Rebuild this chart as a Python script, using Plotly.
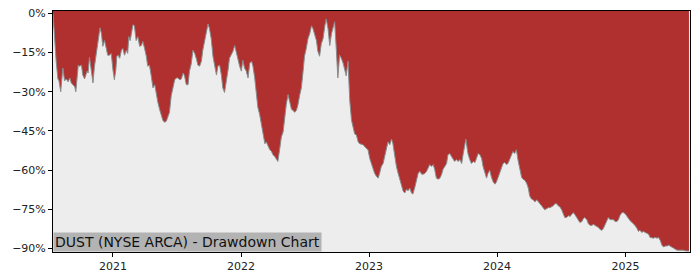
import plotly.graph_objects as go

dates = [
"2020-07-14","2020-07-17","2020-07-19","2020-07-23","2020-07-28","2020-07-31","2020-08-05","2020-08-07","2020-08-11","2020-08-16",
"2020-08-21","2020-08-26","2020-08-31","2020-09-04","2020-09-09","2020-09-14","2020-09-17","2020-09-20","2020-09-24","2020-09-28",
"2020-10-03","2020-10-07","2020-10-12","2020-10-15","2020-10-19","2020-10-22","2020-10-26","2020-10-31","2020-11-05","2020-11-09",
"2020-11-14","2020-11-18","2020-11-21","2020-11-25","2020-11-29","2020-12-03","2020-12-08","2020-12-13","2020-12-17","2020-12-22",
"2020-12-27","2021-01-01","2021-01-05","2021-01-09","2021-01-12","2021-01-16","2021-01-20","2021-01-25","2021-01-29","2021-02-03",
"2021-02-08","2021-02-12","2021-02-15","2021-02-19","2021-02-23","2021-02-27","2021-03-03","2021-03-08","2021-03-13","2021-03-18",
"2021-03-23","2021-03-27","2021-04-01","2021-04-06","2021-04-10","2021-04-15","2021-04-20","2021-04-25","2021-04-30","2021-05-04",
"2021-05-09","2021-05-14","2021-05-19","2021-05-23","2021-05-28","2021-06-02","2021-06-06","2021-06-11","2021-06-16","2021-06-21",
"2021-06-26","2021-07-01","2021-07-05","2021-07-10","2021-07-15","2021-07-20","2021-07-24","2021-07-29","2021-08-03","2021-08-07",
"2021-08-12","2021-08-17","2021-08-22","2021-08-27","2021-08-31","2021-09-05","2021-09-10","2021-09-14","2021-09-19","2021-09-24",
"2021-09-29","2021-10-03","2021-10-08","2021-10-13","2021-10-18","2021-10-23","2021-10-27","2021-11-01","2021-11-06","2021-11-10",
"2021-11-15","2021-11-20","2021-11-25","2021-11-29","2021-12-04","2021-12-09","2021-12-14","2021-12-19","2021-12-23","2021-12-28",
"2022-01-02","2022-01-06","2022-01-11","2022-01-16","2022-01-21","2022-01-26","2022-01-31","2022-02-04","2022-02-09","2022-02-14",
"2022-02-18","2022-02-23","2022-02-28","2022-03-05","2022-03-10","2022-03-14","2022-03-19","2022-03-24","2022-03-29","2022-04-02",
"2022-04-07","2022-04-12","2022-04-16","2022-04-21","2022-04-26","2022-05-01","2022-05-05","2022-05-10","2022-05-15","2022-05-20",
"2022-05-25","2022-05-29","2022-06-03","2022-06-08","2022-06-12","2022-06-17","2022-06-22","2022-06-27","2022-07-01","2022-07-06",
"2022-07-11","2022-07-16","2022-07-21","2022-07-25","2022-07-30","2022-08-04","2022-08-08","2022-08-13","2022-08-18","2022-08-23",
"2022-08-28","2022-09-01","2022-09-06","2022-09-11","2022-09-16","2022-09-20","2022-09-25","2022-09-30","2022-10-04","2022-10-09",
"2022-10-14","2022-10-19","2022-10-24","2022-10-28","2022-11-02","2022-11-07","2022-11-12","2022-11-16","2022-11-21","2022-11-26",
"2022-12-01","2022-12-05","2022-12-15","2022-12-25","2022-12-29","2023-01-03","2023-01-08","2023-01-12","2023-01-17","2023-01-22",
"2023-01-27","2023-01-31","2023-02-05","2023-02-10","2023-02-15","2023-02-20","2023-02-24","2023-03-01","2023-03-06","2023-03-10",
"2023-03-15","2023-03-20","2023-03-25","2023-03-30","2023-04-03","2023-04-08","2023-04-13","2023-04-18","2023-04-22","2023-04-27",
"2023-05-02","2023-05-06","2023-05-11","2023-05-16","2023-05-21","2023-05-26","2023-05-31","2023-06-04","2023-06-09","2023-06-14",
"2023-06-18","2023-06-23","2023-06-28","2023-07-03","2023-07-07","2023-07-12","2023-07-17","2023-07-22","2023-07-27","2023-07-31",
"2023-08-05","2023-08-10","2023-08-14","2023-08-19","2023-08-24","2023-08-29","2023-09-02","2023-09-07","2023-09-12","2023-09-17",
"2023-09-22","2023-09-26","2023-10-01","2023-10-04","2023-10-07","2023-10-10","2023-10-15","2023-10-20","2023-10-25","2023-10-30",
"2023-11-03","2023-11-08","2023-11-13","2023-11-18","2023-11-22","2023-11-27","2023-12-02","2023-12-06","2023-12-11","2023-12-16",
"2023-12-21","2023-12-26","2023-12-30","2024-01-04","2024-01-09","2024-01-14","2024-01-18","2024-01-23","2024-01-28","2024-02-01",
"2024-02-06","2024-02-11","2024-02-15","2024-02-20","2024-02-25","2024-03-01","2024-03-06","2024-03-11","2024-03-15","2024-03-20",
"2024-03-25","2024-03-30","2024-04-03","2024-04-08","2024-04-13","2024-04-18","2024-04-23","2024-04-27","2024-05-02","2024-05-07",
"2024-05-11","2024-05-16","2024-05-21","2024-05-26","2024-05-31","2024-06-04","2024-06-09","2024-06-14","2024-06-19","2024-06-23",
"2024-06-28","2024-07-03","2024-07-07","2024-07-12","2024-07-17","2024-07-22","2024-07-27","2024-07-31","2024-08-05","2024-08-10",
"2024-08-15","2024-08-19","2024-08-24","2024-08-30","2024-09-03","2024-09-07","2024-09-13","2024-09-17","2024-09-22","2024-09-27",
"2024-10-02","2024-10-06","2024-10-12","2024-10-16","2024-10-20","2024-10-26","2024-10-30","2024-11-03","2024-11-09","2024-11-13",
"2024-11-18","2024-11-23","2024-11-28","2024-12-02","2024-12-08","2024-12-12","2024-12-16","2024-12-22","2024-12-26","2024-12-31",
"2025-01-05","2025-01-10","2025-01-14","2025-01-20","2025-01-24","2025-01-28","2025-02-03","2025-02-07","2025-02-11","2025-02-17",
"2025-02-21","2025-02-26","2025-03-03","2025-03-08","2025-03-12","2025-03-18","2025-03-22","2025-03-26","2025-04-01","2025-04-05",
"2025-04-10","2025-04-15","2025-04-20","2025-04-24","2025-04-30","2025-05-04","2025-05-08","2025-05-14","2025-05-18","2025-05-23",
"2025-05-28","2025-06-06","2025-06-14","2025-06-23","2025-07-01"]

drawdown = [
0.0,-7.0,-12.6,-18.3,-25.1,-25.8,-30.0,-27.7,-20.9,-25.8,
-25.1,-26.2,-24.7,-26.6,-27.3,-28.1,-30.0,-26.6,-19.8,-20.2,
-19.8,-23.6,-25.1,-23.9,-22.1,-22.8,-16.8,-21.7,-26.6,-20.5,
-15.3,-11.5,-8.5,-5.5,-7.7,-12.6,-10.4,-13.4,-16.0,-16.0,
-15.3,-21.7,-25.4,-21.7,-16.4,-16.0,-17.2,-14.1,-13.4,-16.0,
-14.1,-15.3,-8.9,-10.4,-7.7,-4.3,-4.7,-10.4,-8.9,-12.6,
-12.3,-10.7,-13.4,-16.4,-20.2,-19.8,-23.9,-28.5,-27.3,-31.1,
-34.1,-36.8,-39.8,-40.9,-41.7,-41.3,-39.8,-37.9,-31.5,-28.8,
-25.4,-24.7,-24.7,-25.4,-25.1,-22.8,-23.9,-27.3,-27.3,-22.1,
-19.4,-14.1,-15.3,-17.5,-19.8,-20.2,-18.3,-14.1,-10.7,-7.0,
-4.0,-5.8,-9.6,-16.4,-20.2,-23.6,-20.2,-19.8,-23.6,-28.5,
-30.3,-26.6,-21.7,-17.2,-16.0,-14.5,-12.3,-15.3,-17.2,-20.2,
-22.1,-17.9,-20.9,-22.1,-24.7,-19.0,-18.3,-20.2,-24.7,-31.5,
-36.0,-38.6,-42.4,-45.4,-49.9,-49.2,-51.1,-52.2,-52.9,-54.1,
-54.8,-56.0,-56.7,-52.2,-47.3,-45.4,-39.8,-34.9,-31.1,-34.1,
-36.8,-37.1,-37.9,-37.1,-35.2,-31.5,-28.5,-22.1,-16.4,-13.4,
-9.6,-7.7,-4.7,-5.8,-8.5,-10.4,-14.5,-16.4,-11.5,-9.6,
-4.7,-2.1,-5.8,-12.3,-7.7,-5.8,-3.2,-14.5,-24.7,-16.0,
-17.2,-19.0,-22.1,-23.9,-18.3,-33.4,-40.9,-43.5,-46.2,-46.6,
-49.2,-49.9,-50.3,-51.8,-52.2,-55.6,-57.5,-59.7,-61.3,-62.4,
-63.1,-61.3,-58.6,-57.5,-54.8,-51.1,-49.2,-50.3,-48.1,-49.9,
-54.8,-58.6,-61.3,-63.5,-66.2,-68.0,-68.8,-67.3,-68.0,-66.9,
-68.8,-69.2,-66.9,-64.3,-61.3,-60.5,-61.6,-61.6,-61.3,-60.5,
-59.4,-57.9,-58.6,-57.9,-59.7,-63.1,-63.5,-63.1,-61.6,-59.7,
-58.6,-57.5,-54.1,-53.7,-54.8,-56.0,-56.7,-56.0,-56.7,-56.0,
-57.5,-54.1,-49.9,-48.1,-51.1,-53.7,-56.0,-57.5,-56.7,-57.1,
-55.6,-53.7,-54.1,-55.6,-58.6,-61.3,-63.1,-61.3,-60.1,-62.8,
-64.6,-65.4,-64.6,-62.8,-60.9,-59.4,-57.5,-57.1,-57.9,-57.5,
-56.0,-54.1,-52.9,-53.7,-52.2,-56.4,-60.1,-62.8,-63.5,-63.9,
-65.0,-66.9,-69.9,-71.1,-71.4,-72.2,-71.4,-72.2,-72.9,-73.7,
-74.4,-75.2,-74.8,-74.4,-74.4,-74.1,-73.7,-72.9,-72.9,-73.7,
-74.1,-75.2,-76.3,-78.2,-78.2,-77.5,-77.8,-77.1,-76.3,-77.1,
-78.2,-79.4,-80.1,-79.7,-78.6,-78.2,-79.0,-80.5,-81.2,-81.2,
-80.8,-81.2,-81.6,-82.0,-82.7,-83.1,-82.4,-81.2,-79.7,-78.2,
-79.0,-79.0,-79.0,-79.7,-79.7,-79.0,-77.5,-76.3,-76.3,-76.7,
-77.8,-78.6,-79.4,-80.1,-80.5,-81.2,-82.4,-83.5,-83.1,-83.9,
-83.5,-83.9,-84.2,-84.6,-85.8,-86.1,-86.1,-85.8,-86.1,-85.8,
-86.9,-88.8,-89.5,-89.1,-89.1,-88.8,-89.1,-89.5,-89.9,-90.3,
-90.7,-90.7,-90.7,-91.0,-91.0]

y_ticks = [0, -15, -30, -45, -60, -75, -90]
y_tick_labels = ["0%", "\u221215%", "\u221230%", "\u221245%", "\u221260%", "\u221275%", "\u221290%"]
x_ticks = ["2021-01-01", "2022-01-01", "2023-01-01", "2024-01-01", "2025-01-01"]
x_tick_labels = ["2021", "2022", "2023", "2024", "2025"]
title_text = "DUST (NYSE ARCA) - Drawdown Chart"

Y_TOP = 0.94
Y_BOTTOM = -91.4
RED = "#B03030"
BG = "#EDEDED"

fig = go.Figure()
fig.add_trace(go.Scatter(x=dates, y=[Y_TOP] * len(dates), mode="lines",
                         line=dict(width=0, color=RED), hoverinfo="skip", showlegend=False))
fig.add_trace(go.Scatter(x=dates, y=drawdown, mode="lines", fill="tonexty",
                         fillcolor=RED, line=dict(color="#8c8c8c", width=1),
                         showlegend=False))

font = "DejaVu Sans, Liberation Sans, sans-serif"
fig.update_layout(
    width=700, height=280,
    margin=dict(l=53, r=10, t=7, b=28),
    paper_bgcolor="white", plot_bgcolor=BG,
    font=dict(family=font, size=11, color="#222"),
    xaxis=dict(range=["2020-07-14", "2025-07-04"], tickvals=x_ticks, ticktext=x_tick_labels,
               showgrid=False, zeroline=False, showline=True, linecolor="black", linewidth=1,
               mirror=True, ticks="outside", ticklen=4, tickcolor="black",
               tickfont=dict(family=font, size=11, color="#222")),
    yaxis=dict(range=[Y_BOTTOM, Y_TOP], tickvals=y_ticks, ticktext=y_tick_labels,
               showgrid=False, zeroline=False, showline=True, linecolor="black", linewidth=1,
               mirror=True, ticks="outside", ticklen=4, tickcolor="black",
               tickfont=dict(family=font, size=11, color="#222")),
    annotations=[dict(text=title_text, xref="paper", yref="paper", x=0, y=0,
                      xanchor="left", yanchor="bottom", showarrow=False,
                      bgcolor="#B3B3B3", borderpad=1,
                      font=dict(family=font, size=14, color="#111"))],
)

fig.write_html("out.html")
